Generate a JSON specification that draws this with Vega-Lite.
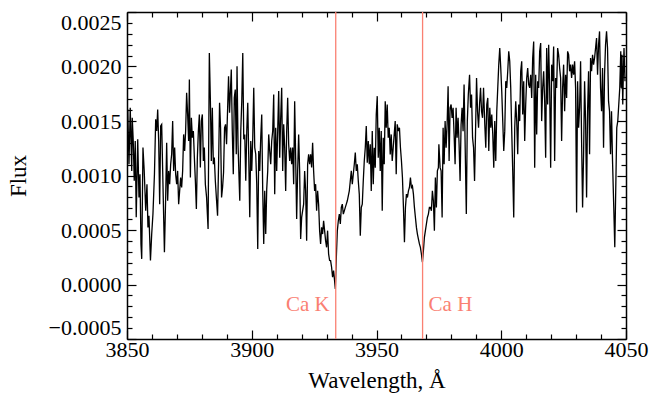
{
  "$schema": "https://vega.github.io/schema/vega-lite/v6.json",
  "width": 499,
  "height": 327,
  "autosize": {"type": "none"},
  "padding": {"left": 127, "top": 12, "right": 40, "bottom": 55},
  "background": "white",
  "config": {
    "view": {"stroke": null},
    "font": "Liberation Serif, Times New Roman, serif",
    "axis": {
      "grid": false,
      "domainColor": "black",
      "domainWidth": 1.5,
      "tickColor": "black",
      "tickWidth": 1.2,
      "labelFont": "Liberation Serif, Times New Roman, serif",
      "labelFontSize": 22,
      "labelColor": "black",
      "titleFont": "Liberation Serif, Times New Roman, serif",
      "titleFontSize": 23,
      "titleFontWeight": "normal",
      "titleColor": "black",
      "labelOverlap": false
    }
  },
  "datasets": {
    "spec": [
      {"w":3850.0,"f":0.001103},{"w":3850.3,"f":0.001606},{"w":3850.8,"f":0.001103},{"w":3851.3,"f":0.001621},{"w":3851.9,"f":0.001042},{"w":3852.1,"f":0.001530},{"w":3852.5,"f":0.001316},{"w":3852.9,"f":0.000951},{"w":3853.3,"f":0.001316},{"w":3853.7,"f":0.000616},{"w":3854.3,"f":0.001332},{"w":3854.8,"f":0.000799},{"w":3855.2,"f":0.001012},{"w":3855.6,"f":0.000372},{"w":3855.9,"f":0.000235},{"w":3856.4,"f":0.001256},{"w":3856.9,"f":0.001042},{"w":3857.5,"f":0.000677},{"w":3858.0,"f":0.000920},{"w":3858.4,"f":0.000524},{"w":3858.8,"f":0.000631},{"w":3859.4,"f":0.000220},{"w":3859.9,"f":0.000463},{"w":3860.4,"f":0.000646},{"w":3861.0,"f":0.001012},{"w":3861.5,"f":0.001515},{"w":3861.9,"f":0.001408},{"w":3862.3,"f":0.001606},{"w":3862.7,"f":0.001316},{"w":3863.1,"f":0.000737},{"w":3863.5,"f":0.001454},{"w":3863.9,"f":0.001469},{"w":3864.3,"f":0.001042},{"w":3865.0,"f":0.000296},{"w":3865.5,"f":0.000799},{"w":3865.9,"f":0.001301},{"w":3866.3,"f":0.000768},{"w":3866.7,"f":0.001042},{"w":3867.1,"f":0.000920},{"w":3867.5,"f":0.001103},{"w":3867.9,"f":0.001195},{"w":3868.3,"f":0.001499},{"w":3868.7,"f":0.001042},{"w":3869.1,"f":0.001256},{"w":3869.5,"f":0.001012},{"w":3869.9,"f":0.000920},{"w":3870.3,"f":0.001042},{"w":3870.7,"f":0.000737},{"w":3871.1,"f":0.000859},{"w":3871.5,"f":0.000981},{"w":3871.9,"f":0.000890},{"w":3872.3,"f":0.001042},{"w":3872.7,"f":0.001377},{"w":3873.1,"f":0.001225},{"w":3873.5,"f":0.001408},{"w":3873.9,"f":0.001758},{"w":3874.3,"f":0.001560},{"w":3874.7,"f":0.001316},{"w":3875.0,"f":0.001880},{"w":3875.4,"f":0.000981},{"w":3875.8,"f":0.001530},{"w":3876.2,"f":0.001347},{"w":3876.6,"f":0.001408},{"w":3877.0,"f":0.001164},{"w":3877.4,"f":0.000951},{"w":3877.8,"f":0.000692},{"w":3878.2,"f":0.001164},{"w":3878.6,"f":0.001408},{"w":3879.0,"f":0.001560},{"w":3879.4,"f":0.001073},{"w":3879.8,"f":0.001499},{"w":3880.2,"f":0.001560},{"w":3880.6,"f":0.001134},{"w":3881.0,"f":0.001256},{"w":3881.4,"f":0.000920},{"w":3881.9,"f":0.000799},{"w":3882.5,"f":0.000509},{"w":3883.0,"f":0.002124},{"w":3883.4,"f":0.001713},{"w":3883.8,"f":0.001134},{"w":3884.2,"f":0.001621},{"w":3884.6,"f":0.001103},{"w":3885.0,"f":0.001164},{"w":3885.4,"f":0.000951},{"w":3885.9,"f":0.000768},{"w":3886.3,"f":0.000631},{"w":3886.7,"f":0.001103},{"w":3887.1,"f":0.001667},{"w":3887.5,"f":0.001438},{"w":3887.9,"f":0.000799},{"w":3888.3,"f":0.000890},{"w":3888.7,"f":0.001027},{"w":3889.1,"f":0.001438},{"w":3889.5,"f":0.001469},{"w":3889.9,"f":0.001286},{"w":3890.3,"f":0.001591},{"w":3890.7,"f":0.001911},{"w":3891.1,"f":0.001575},
      {"w":3891.8,"f":0.001972},{"w":3892.2,"f":0.001408},{"w":3892.6,"f":0.001012},{"w":3893.0,"f":0.001713},{"w":3893.4,"f":0.001789},{"w":3893.8,"f":0.001195},{"w":3894.1,"f":0.002002},{"w":3894.5,"f":0.001286},{"w":3894.9,"f":0.000981},{"w":3895.2,"f":0.000768},{"w":3895.6,"f":0.001408},{"w":3896.0,"f":0.001682},{"w":3896.4,"f":0.002124},{"w":3896.8,"f":0.001332},{"w":3897.2,"f":0.001377},{"w":3897.6,"f":0.000951},{"w":3898.0,"f":0.001408},{"w":3898.4,"f":0.001667},{"w":3898.8,"f":0.001164},{"w":3899.2,"f":0.000616},{"w":3899.6,"f":0.001316},{"w":3900.0,"f":0.001042},{"w":3900.4,"f":0.001347},{"w":3900.8,"f":0.001804},{"w":3901.2,"f":0.001256},{"w":3901.6,"f":0.001195},{"w":3902.0,"f":0.000920},{"w":3902.4,"f":0.000326},{"w":3902.8,"f":0.001225},{"w":3903.2,"f":0.001042},{"w":3903.6,"f":0.001347},{"w":3904.0,"f":0.001560},{"w":3904.4,"f":0.000859},{"w":3904.8,"f":0.000372},{"w":3905.2,"f":0.000859},{"w":3905.6,"f":0.000463},{"w":3906.0,"f":0.000875},{"w":3906.4,"f":0.001042},{"w":3906.8,"f":0.001377},{"w":3907.2,"f":0.001225},{"w":3907.6,"f":0.001103},{"w":3908.0,"f":0.001316},{"w":3908.4,"f":0.001408},{"w":3908.8,"f":0.001743},{"w":3909.2,"f":0.000829},{"w":3909.6,"f":0.001438},{"w":3910.0,"f":0.001042},{"w":3910.4,"f":0.001408},{"w":3910.8,"f":0.001774},{"w":3911.2,"f":0.001164},{"w":3911.6,"f":0.001530},{"w":3912.0,"f":0.001804},{"w":3912.4,"f":0.001042},{"w":3912.8,"f":0.001469},{"w":3913.2,"f":0.001256},{"w":3913.6,"f":0.000859},{"w":3914.0,"f":0.001408},{"w":3914.4,"f":0.001713},{"w":3914.8,"f":0.001286},{"w":3915.2,"f":0.001134},{"w":3915.6,"f":0.001256},{"w":3916.0,"f":0.001103},{"w":3916.4,"f":0.001256},{"w":3916.8,"f":0.000920},{"w":3917.2,"f":0.001682},{"w":3917.6,"f":0.001164},{"w":3918.0,"f":0.000600},{"w":3918.4,"f":0.001042},{"w":3918.8,"f":0.001377},{"w":3919.2,"f":0.001042},{"w":3919.6,"f":0.000418},{"w":3920.0,"f":0.000616},{"w":3920.4,"f":0.000677},{"w":3920.8,"f":0.000737},{"w":3921.2,"f":0.001042},{"w":3921.6,"f":0.000859},{"w":3922.0,"f":0.000402},{"w":3922.4,"f":0.001103},{"w":3922.8,"f":0.001195},{"w":3923.2,"f":0.001103},{"w":3923.6,"f":0.001195},{"w":3924.0,"f":0.001073},{"w":3924.4,"f":0.001301},{"w":3924.8,"f":0.001042},{"w":3925.2,"f":0.000859},{"w":3925.6,"f":0.000920},{"w":3926.0,"f":0.000677},{"w":3926.4,"f":0.000859},{"w":3926.8,"f":0.000737},{"w":3927.2,"f":0.000494},{"w":3927.6,"f":0.000372},{"w":3928.0,"f":0.000524},{"w":3928.4,"f":0.000463},{"w":3928.8,"f":0.000585},{"w":3929.2,"f":0.000494},{"w":3929.6,"f":0.000402},{"w":3930.0,"f":0.000341},{"w":3930.4,"f":0.000494},{"w":3930.8,"f":0.000281},{"w":3931.2,"f":0.000220},
      {"w":3931.6,"f":0.000219},{"w":3932.0,"f":0.000158},{"w":3932.4,"f":0.000067},{"w":3932.8,"f":0.000128},{"w":3933.2,"f":0.000036},{"w":3933.5,"f":-0.000040},{"w":3933.9,"f":0.000250},{"w":3934.3,"f":0.000494},{"w":3934.7,"f":0.000585},{"w":3935.1,"f":0.000646},{"w":3935.5,"f":0.000555},{"w":3935.9,"f":0.000707},{"w":3936.3,"f":0.000737},{"w":3936.7,"f":0.000646},{"w":3937.1,"f":0.000676},{"w":3937.5,"f":0.000707},{"w":3937.9,"f":0.000737},{"w":3938.3,"f":0.000768},{"w":3938.7,"f":0.000813},{"w":3939.1,"f":0.000859},{"w":3939.5,"f":0.000951},{"w":3939.9,"f":0.001042},{"w":3940.3,"f":0.000920},{"w":3940.7,"f":0.001012},{"w":3941.1,"f":0.001103},{"w":3941.5,"f":0.001210},{"w":3941.9,"f":0.001042},{"w":3942.3,"f":0.001103},{"w":3942.7,"f":0.000951},{"w":3943.1,"f":0.000829},{"w":3943.5,"f":0.000448},{"w":3943.9,"f":0.000707},{"w":3944.3,"f":0.000737},{"w":3944.7,"f":0.000951},{"w":3945.1,"f":0.001133},{"w":3945.5,"f":0.001255},{"w":3945.9,"f":0.001453},{"w":3946.3,"f":0.001118},{"w":3946.7,"f":0.001316},{"w":3947.1,"f":0.001103},{"w":3947.5,"f":0.001286},{"w":3947.9,"f":0.000859},{"w":3948.3,"f":0.001408},{"w":3948.7,"f":0.000920},{"w":3949.1,"f":0.001255},{"w":3949.5,"f":0.001072},{"w":3949.9,"f":0.001560},{"w":3950.3,"f":0.001728},{"w":3950.7,"f":0.001164},{"w":3951.1,"f":0.001438},{"w":3951.5,"f":0.001042},{"w":3951.9,"f":0.001408},{"w":3952.3,"f":0.000676},{"w":3952.7,"f":0.001347},{"w":3953.1,"f":0.001103},{"w":3953.5,"f":0.001682},{"w":3953.9,"f":0.001438},{"w":3954.3,"f":0.001651},{"w":3954.7,"f":0.001347},{"w":3955.1,"f":0.001438},{"w":3955.5,"f":0.001194},{"w":3955.9,"f":0.001377},{"w":3956.3,"f":0.001133},{"w":3956.7,"f":0.001255},{"w":3957.1,"f":0.001377},{"w":3957.5,"f":0.001499},{"w":3957.9,"f":0.001012},{"w":3958.3,"f":0.001469},{"w":3958.8,"f":0.001408},{"w":3959.2,"f":0.001438},{"w":3959.6,"f":0.001255},{"w":3960.0,"f":0.001133},{"w":3960.4,"f":0.000981},{"w":3960.8,"f":0.000707},{"w":3961.2,"f":0.000387},{"w":3961.6,"f":0.000707},{"w":3962.0,"f":0.000829},{"w":3962.4,"f":0.000798},{"w":3962.8,"f":0.000859},{"w":3963.2,"f":0.000890},{"w":3963.6,"f":0.000981},{"w":3964.0,"f":0.000890},{"w":3964.4,"f":0.000905},{"w":3964.8,"f":0.000829},{"w":3965.2,"f":0.000707},{"w":3965.6,"f":0.000615},{"w":3966.0,"f":0.000524},{"w":3966.4,"f":0.000463},{"w":3966.8,"f":0.000417},{"w":3967.2,"f":0.000372},{"w":3967.6,"f":0.000341},{"w":3968.0,"f":0.000280},{"w":3968.4,"f":0.000204},{"w":3968.8,"f":0.000311},{"w":3969.2,"f":0.000433},{"w":3969.6,"f":0.000494},{"w":3970.0,"f":0.000555},{"w":3970.4,"f":0.000615},{"w":3970.8,"f":0.000646},{"w":3971.2,"f":0.000707},
      {"w":3971.6,"f":0.000707},{"w":3972.0,"f":0.000676},{"w":3972.4,"f":0.000859},{"w":3972.8,"f":0.000768},{"w":3973.2,"f":0.000493},{"w":3973.6,"f":0.000981},{"w":3974.0,"f":0.000707},{"w":3974.4,"f":0.001042},{"w":3974.8,"f":0.001072},{"w":3975.0,"f":0.001286},{"w":3975.5,"f":0.001072},{"w":3975.9,"f":0.001042},{"w":3976.3,"f":0.000615},{"w":3976.7,"f":0.001438},{"w":3977.1,"f":0.001103},{"w":3977.5,"f":0.001499},{"w":3977.9,"f":0.001255},{"w":3978.3,"f":0.001468},{"w":3978.7,"f":0.001819},{"w":3979.1,"f":0.001133},{"w":3979.5,"f":0.001621},{"w":3979.9,"f":0.001651},{"w":3980.3,"f":0.001529},{"w":3980.7,"f":0.001621},{"w":3981.1,"f":0.001377},{"w":3981.5,"f":0.001103},{"w":3981.9,"f":0.001621},{"w":3982.3,"f":0.001347},{"w":3982.7,"f":0.001529},{"w":3983.1,"f":0.001286},{"w":3983.5,"f":0.000950},{"w":3983.9,"f":0.001468},{"w":3984.3,"f":0.001621},{"w":3984.7,"f":0.001407},{"w":3985.1,"f":0.001834},{"w":3985.5,"f":0.001316},{"w":3986.0,"f":0.000646},{"w":3986.4,"f":0.001499},{"w":3986.8,"f":0.001743},{"w":3987.3,"f":0.001925},{"w":3987.7,"f":0.001621},{"w":3988.1,"f":0.001743},{"w":3988.5,"f":0.001347},{"w":3988.9,"f":0.001255},{"w":3989.3,"f":0.000950},{"w":3989.7,"f":0.001407},{"w":3990.1,"f":0.001895},{"w":3990.5,"f":0.001590},{"w":3990.9,"f":0.001438},{"w":3991.3,"f":0.001651},{"w":3991.7,"f":0.001804},{"w":3992.1,"f":0.001590},{"w":3992.5,"f":0.001529},{"w":3992.9,"f":0.001804},{"w":3993.4,"f":0.001468},{"w":3993.8,"f":0.001255},{"w":3994.2,"f":0.001651},{"w":3994.6,"f":0.001712},{"w":3995.0,"f":0.001225},{"w":3995.4,"f":0.001621},{"w":3995.8,"f":0.001438},{"w":3996.2,"f":0.001560},{"w":3996.6,"f":0.001377},{"w":3997.0,"f":0.001072},{"w":3997.4,"f":0.001499},{"w":3997.8,"f":0.001133},{"w":3998.2,"f":0.001590},{"w":3998.6,"f":0.001804},{"w":3999.0,"f":0.002017},{"w":3999.4,"f":0.002169},{"w":3999.8,"f":0.001986},{"w":4000.2,"f":0.001773},{"w":4000.6,"f":0.001499},{"w":4001.0,"f":0.001225},{"w":4001.4,"f":0.001407},{"w":4001.8,"f":0.001865},{"w":4002.2,"f":0.001804},{"w":4002.6,"f":0.001956},{"w":4003.0,"f":0.002139},{"w":4003.4,"f":0.002047},{"w":4003.8,"f":0.001804},{"w":4004.2,"f":0.001407},{"w":4004.6,"f":0.001042},{"w":4005.0,"f":0.000615},{"w":4005.4,"f":0.001438},{"w":4005.8,"f":0.001682},{"w":4006.2,"f":0.001499},{"w":4006.6,"f":0.001194},{"w":4007.0,"f":0.001651},{"w":4007.4,"f":0.001499},{"w":4007.8,"f":0.001956},{"w":4008.2,"f":0.002047},{"w":4008.6,"f":0.001560},{"w":4009.0,"f":0.001865},{"w":4009.4,"f":0.001316},{"w":4009.8,"f":0.001651},{"w":4010.2,"f":0.001895},{"w":4010.6,"f":0.001986},{"w":4011.0,"f":0.001834},{"w":4011.4,"f":0.001804},
      {"w":4011.8,"f":0.001925},{"w":4012.2,"f":0.001712},{"w":4012.6,"f":0.002078},{"w":4013.0,"f":0.002230},{"w":4013.4,"f":0.001072},{"w":4013.8,"f":0.001925},{"w":4014.2,"f":0.001377},{"w":4014.6,"f":0.001865},{"w":4015.0,"f":0.001804},{"w":4015.4,"f":0.002139},{"w":4015.8,"f":0.002215},{"w":4016.2,"f":0.001499},{"w":4016.6,"f":0.001804},{"w":4017.0,"f":0.001956},{"w":4017.4,"f":0.001682},{"w":4017.8,"f":0.001164},{"w":4018.2,"f":0.002169},{"w":4018.6,"f":0.001651},{"w":4019.0,"f":0.002200},{"w":4019.4,"f":0.001804},{"w":4019.8,"f":0.001072},{"w":4020.2,"f":0.002017},{"w":4020.6,"f":0.001865},{"w":4021.0,"f":0.002184},{"w":4021.4,"f":0.001133},{"w":4021.8,"f":0.001895},{"w":4022.2,"f":0.001804},{"w":4022.6,"f":0.002169},{"w":4023.0,"f":0.002108},{"w":4023.4,"f":0.001986},{"w":4023.8,"f":0.001895},{"w":4024.2,"f":0.001316},{"w":4024.6,"f":0.001804},{"w":4025.0,"f":0.002017},{"w":4025.4,"f":0.001590},{"w":4025.8,"f":0.001925},{"w":4026.2,"f":0.001712},{"w":4026.6,"f":0.002139},{"w":4027.0,"f":0.002108},{"w":4027.4,"f":0.001956},{"w":4027.8,"f":0.002017},{"w":4028.2,"f":0.001895},{"w":4028.6,"f":0.002017},{"w":4029.0,"f":0.001925},{"w":4029.4,"f":0.002047},{"w":4029.8,"f":0.001804},{"w":4030.2,"f":0.000661},{"w":4030.6,"f":0.001865},{"w":4031.0,"f":0.001438},{"w":4031.4,"f":0.001621},{"w":4031.8,"f":0.002047},{"w":4032.2,"f":0.001316},{"w":4032.6,"f":0.000707},{"w":4033.0,"f":0.001194},{"w":4033.4,"f":0.001865},{"w":4033.8,"f":0.001499},{"w":4034.2,"f":0.000798},{"w":4034.6,"f":0.001590},{"w":4035.0,"f":0.001956},{"w":4035.4,"f":0.001194},{"w":4035.8,"f":0.002078},{"w":4036.2,"f":0.001956},{"w":4036.6,"f":0.002108},{"w":4037.0,"f":0.002017},{"w":4037.4,"f":0.002078},{"w":4037.8,"f":0.002169},{"w":4038.2,"f":0.002261},{"w":4038.6,"f":0.001925},{"w":4039.0,"f":0.002200},{"w":4039.4,"f":0.002322},{"w":4039.8,"f":0.001804},{"w":4040.2,"f":0.001590},{"w":4040.6,"f":0.001986},{"w":4041.0,"f":0.001255},{"w":4041.4,"f":0.001925},{"w":4041.8,"f":0.002200},{"w":4042.2,"f":0.002322},{"w":4042.6,"f":0.002169},{"w":4043.0,"f":0.001682},{"w":4043.4,"f":0.001590},{"w":4043.8,"f":0.001194},{"w":4044.2,"f":0.001590},{"w":4044.6,"f":0.001133},{"w":4045.1,"f":0.000707},{"w":4045.5,"f":0.000341},{"w":4045.9,"f":0.000889},{"w":4046.3,"f":0.001438},{"w":4046.7,"f":0.001499},{"w":4047.1,"f":0.001651},{"w":4047.5,"f":0.001804},{"w":4047.9,"f":0.002139},{"w":4048.1,"f":0.001804},{"w":4048.4,"f":0.002108},{"w":4048.7,"f":0.001651},{"w":4048.9,"f":0.001895},{"w":4049.2,"f":0.002169},{"w":4049.6,"f":0.001865}
    ],
    "lines": [
      {"name": "Ca K", "w": 3933.66},
      {"name": "Ca H", "w": 3968.47}
    ]
  },
  "resolve": {"axis": {"x": "independent", "y": "independent"}},
  "layer": [
    {
      "data": {"name": "spec"},
      "mark": {"type": "line", "color": "black", "strokeWidth": 1.3, "clip": true},
      "encoding": {
        "x": {
          "field": "w", "type": "quantitative",
          "scale": {"domain": [3850, 4050], "nice": false, "zero": false},
          "axis": {
            "orient": "bottom",
            "title": "Wavelength, Å",
            "titlePadding": 5,
            "values": [3850,3860,3870,3880,3890,3900,3910,3920,3930,3940,3950,3960,3970,3980,3990,4000,4010,4020,4030,4040,4050],
            "labelExpr": "datum.value % 50 === 0 ? format(datum.value, 'd') : ''",
            "tickSize": {"condition": {"test": "datum.value % 50 === 0", "value": -9}, "value": -5},
            "labelFlush": false,
            "labelPadding": 9
          }
        },
        "y": {
          "field": "f", "type": "quantitative",
          "scale": {"domain": [-0.0005, 0.0025], "nice": false, "zero": false},
          "axis": {
            "orient": "left",
            "title": "Flux",
            "titlePadding": 18,
            "values": [-0.0005,-0.0004,-0.0003,-0.0002,-0.0001,0,0.0001,0.0002,0.0003,0.0004,0.0005,0.0006,0.0007,0.0008,0.0009,0.001,0.0011,0.0012,0.0013,0.0014,0.0015,0.0016,0.0017,0.0018,0.0019,0.002,0.0021,0.0022,0.0023,0.0024,0.0025],
            "labelExpr": "abs(datum.value * 2000 - round(datum.value * 2000)) < 0.001 ? format(datum.value, '.4f') : ''",
            "tickSize": {"condition": {"test": "abs(datum.value * 2000 - round(datum.value * 2000)) < 0.001", "value": -9}, "value": -5},
            "labelFlush": true,
            "labelPadding": 15
          }
        }
      }
    },
    {
      "data": {"name": "lines"},
      "mark": {"type": "rule", "color": "#fa8072", "strokeWidth": 1.3},
      "encoding": {
        "x": {
          "field": "w", "type": "quantitative",
          "scale": {"domain": [3850, 4050], "nice": false, "zero": false},
          "axis": {
            "orient": "top",
            "title": null,
            "labels": false,
            "values": [3850,3860,3870,3880,3890,3900,3910,3920,3930,3940,3950,3960,3970,3980,3990,4000,4010,4020,4030,4040,4050],
            "tickSize": {"condition": {"test": "datum.value % 50 === 0", "value": -9}, "value": -5}
          }
        }
      }
    },
    {
      "data": {"name": "lines"},
      "transform": [{"filter": "datum.name === 'Ca K'"}],
      "mark": {"type": "text", "color": "#fa8072", "font": "Liberation Serif, Times New Roman, serif", "fontSize": 21, "align": "right", "baseline": "middle", "dx": -6},
      "encoding": {
        "x": {"field": "w", "type": "quantitative", "scale": {"domain": [3850, 4050], "nice": false, "zero": false}, "axis": null},
        "y": {
          "datum": -0.00019, "type": "quantitative",
          "scale": {"domain": [-0.0005, 0.0025], "nice": false, "zero": false},
          "axis": {
            "orient": "right",
            "title": null,
            "labels": false,
            "values": [-0.0005,-0.0004,-0.0003,-0.0002,-0.0001,0,0.0001,0.0002,0.0003,0.0004,0.0005,0.0006,0.0007,0.0008,0.0009,0.001,0.0011,0.0012,0.0013,0.0014,0.0015,0.0016,0.0017,0.0018,0.0019,0.002,0.0021,0.0022,0.0023,0.0024,0.0025],
            "tickSize": {"condition": {"test": "abs(datum.value * 2000 - round(datum.value * 2000)) < 0.001", "value": -9}, "value": -5}
          }
        },
        "text": {"field": "name"}
      }
    },
    {
      "data": {"name": "lines"},
      "transform": [{"filter": "datum.name === 'Ca H'"}],
      "mark": {"type": "text", "color": "#fa8072", "font": "Liberation Serif, Times New Roman, serif", "fontSize": 21, "align": "left", "baseline": "middle", "dx": 6},
      "encoding": {
        "x": {"field": "w", "type": "quantitative", "scale": {"domain": [3850, 4050], "nice": false, "zero": false}, "axis": null},
        "y": {"datum": -0.00019, "type": "quantitative", "scale": {"domain": [-0.0005, 0.0025], "nice": false, "zero": false}, "axis": null},
        "text": {"field": "name"}
      }
    }
  ]
}
